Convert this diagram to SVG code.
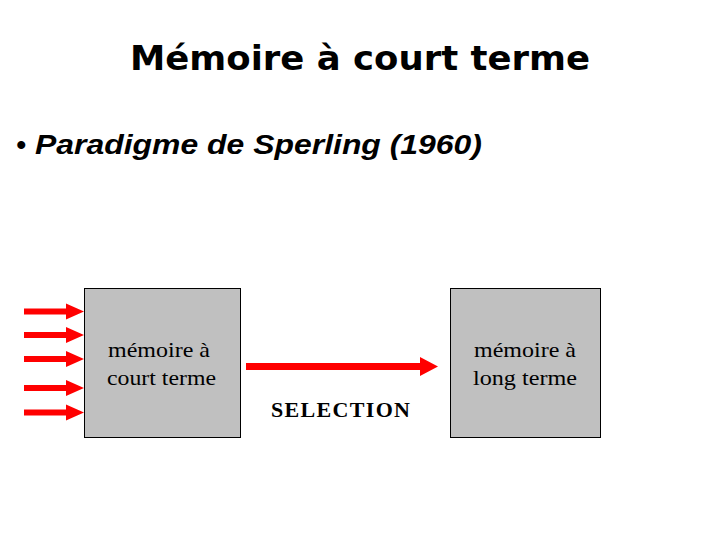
<svg xmlns="http://www.w3.org/2000/svg" width="720" height="540" viewBox="0 0 720 540">
<defs>
<style>
.title{font-family:"DejaVu Sans",Verdana,sans-serif;font-weight:bold;font-size:34px;fill:#000}
.bullet{font-family:"Liberation Sans",Arial,sans-serif;font-style:italic;font-weight:bold;font-size:28px;fill:#000}
.box{fill:#C0C0C0;stroke:#000;stroke-width:1}
.lbl{font-family:"Liberation Serif","Times New Roman",serif;font-size:22px;fill:#000}
.arrow{fill:#FF0000;stroke:none}
</style>
</defs>
<rect width="720" height="540" fill="#fff"/>
<text class="title" x="130" y="70" textLength="460" lengthAdjust="spacingAndGlyphs">Mémoire à court terme</text>
<text class="bullet" x="16" y="154">•</text>
<text class="bullet" x="35" y="154" textLength="447" lengthAdjust="spacingAndGlyphs">Paradigme de Sperling (1960)</text>
<g id="stm">
<rect class="box" x="84.5" y="288.5" width="156" height="149"/>
<text class="lbl" x="108" y="357" textLength="102" lengthAdjust="spacingAndGlyphs">mémoire à</text>
<text class="lbl" x="107" y="385" textLength="109" lengthAdjust="spacingAndGlyphs">court terme</text>
</g>
<g id="ltm">
<rect class="box" x="450.5" y="288.5" width="150" height="149"/>
<text class="lbl" x="474" y="357" textLength="102" lengthAdjust="spacingAndGlyphs">mémoire à</text>
<text class="lbl" x="473" y="385" textLength="104" lengthAdjust="spacingAndGlyphs">long terme</text>
</g>
<g id="connectors">
<path class="arrow" d="M24,308.5 H66 V303.5 L84,311.5 L66,319.5 V314.5 H24 Z"/>
<path class="arrow" d="M24,332 H66 V327 L84,335 L66,343 V338 H24 Z"/>
<path class="arrow" d="M24,356 H66 V351 L84,359 L66,367 V362 H24 Z"/>
<path class="arrow" d="M24,385 H66 V380 L84,388 L66,396 V391 H24 Z"/>
<path class="arrow" d="M24,409.5 H66 V404.5 L84,412.5 L66,420.5 V415.5 H24 Z"/>
<path class="arrow" d="M246,363 H420 V357 L438,366.5 L420,376 V370 H246 Z"/>
<text class="lbl" x="271" y="417" font-weight="bold" textLength="139" lengthAdjust="spacing">SELECTION</text>
</g>
</svg>
